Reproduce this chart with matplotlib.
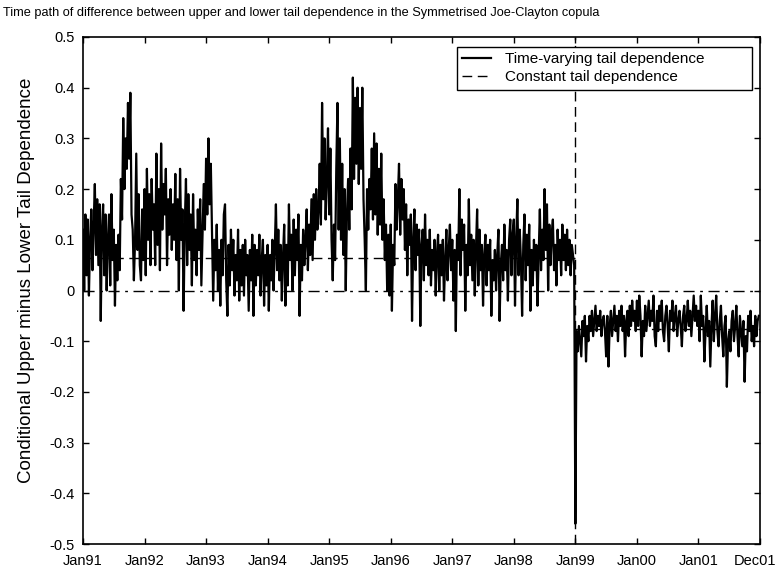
import numpy as np
import matplotlib
matplotlib.use("Agg")
import matplotlib.pyplot as plt
import matplotlib.transforms as mtransforms

plt.rcParams['font.family'] = ['Liberation Sans', 'DejaVu Sans']

# time-varying difference (upper minus lower tail dependence), weekly readings, one list per year
td_1991 = [0.12, 0.00, 0.15, 0.03, 0.14, -0.01, 0.10, 0.16, 0.04, 0.13, 0.21, 0.07, 0.18,
           0.05, 0.17, -0.06, 0.12, 0.17, 0.03, 0.15, 0.00, 0.10, 0.15, 0.01, 0.19, 0.06,
           0.12, -0.03, 0.09, 0.02, 0.11, 0.04, 0.22, 0.14, 0.34, 0.20, 0.30, 0.24, 0.37,
           0.26, 0.39, 0.15, 0.12, 0.02, 0.10, 0.27, 0.08, 0.19, 0.05, 0.02, 0.16, 0.06]
td_1992 = [0.20, 0.03, 0.24, 0.10, 0.19, 0.05, 0.22, 0.12, 0.17, 0.05, 0.27, 0.09, 0.20,
           0.04, 0.29, 0.12, 0.21, 0.15, 0.24, 0.05, 0.18, 0.11, 0.20, 0.08, 0.17, 0.10,
           0.23, 0.06, 0.18, 0.00, 0.24, 0.10, 0.16, -0.04, 0.13, 0.22, 0.05, 0.19, 0.08,
           0.15, 0.01, 0.19, 0.06, 0.12, 0.03, 0.16, 0.08, 0.18, 0.01, 0.11, 0.21, 0.12]
td_1993 = [0.26, 0.15, 0.30, 0.17, 0.25, 0.12, -0.02, 0.10, 0.04, 0.13, 0.00, 0.08, -0.03,
           0.10, 0.03, 0.15, 0.17, 0.02, -0.05, 0.09, 0.01, 0.12, 0.04, 0.10, -0.01, 0.07,
           0.02, 0.12, -0.02, 0.08, 0.01, 0.09, -0.01, 0.10, 0.03, 0.07, -0.04, 0.08, 0.02,
           0.11, -0.05, 0.09, 0.01, 0.08, 0.03, 0.11, -0.01, 0.06, 0.10, -0.03, 0.07, 0.01]
td_1994 = [0.09, -0.04, 0.07, 0.02, 0.10, 0.00, 0.08, 0.17, 0.04, 0.12, 0.02, 0.09, -0.02,
           0.07, 0.13, -0.03, 0.09, 0.01, 0.17, 0.06, 0.11, 0.00, 0.14, 0.03, 0.12, 0.06,
           0.15, -0.05, 0.09, 0.02, 0.12, 0.05, 0.10, 0.16, 0.04, 0.13, 0.07, 0.18, 0.06,
           0.19, 0.10, 0.20, 0.12, 0.16, 0.25, 0.13, 0.37, 0.18, 0.30, 0.14, 0.22, 0.32]
td_1995 = [0.15, 0.28, 0.10, 0.02, 0.13, 0.06, 0.24, 0.37, 0.12, 0.30, 0.10, 0.25, 0.07,
           0.20, 0.00, 0.15, 0.22, 0.12, 0.28, 0.16, 0.42, 0.22, 0.38, 0.25, 0.40, 0.21,
           0.36, 0.24, 0.40, 0.18, 0.10, 0.00, 0.20, 0.12, 0.22, 0.16, 0.28, 0.14, 0.31,
           0.15, 0.29, 0.11, 0.24, 0.13, 0.27, 0.10, 0.18, 0.06, 0.13, 0.00, 0.11, -0.01]
td_1996 = [0.13, -0.04, 0.09, 0.05, 0.21, 0.12, 0.18, 0.25, 0.11, 0.22, 0.14, 0.20, 0.08,
           0.17, 0.03, 0.14, 0.09, 0.15, -0.06, 0.10, 0.16, 0.04, 0.13, 0.07, 0.12, -0.07,
           0.09, 0.12, 0.02, 0.15, 0.05, 0.10, 0.03, 0.12, 0.01, 0.08, 0.04, 0.10, -0.01,
           0.07, 0.11, 0.00, 0.09, 0.03, 0.10, -0.02, 0.06, 0.12, 0.02, 0.08, 0.13, 0.04]
td_1997 = [0.10, -0.02, 0.08, -0.08, 0.11, 0.06, 0.20, 0.03, 0.14, 0.08, 0.13, -0.04, 0.09,
           0.03, 0.18, 0.05, 0.11, 0.02, 0.10, -0.01, 0.08, 0.16, 0.01, 0.12, 0.04, 0.09,
           -0.03, 0.07, 0.11, 0.01, 0.09, 0.04, 0.10, -0.05, 0.06, 0.02, 0.08, 0.00, 0.07,
           0.12, -0.06, 0.05, 0.09, 0.02, 0.13, 0.04, 0.08, -0.02, 0.10, 0.14, 0.03, 0.11]
td_1998 = [0.14, -0.03, 0.10, 0.18, 0.03, 0.12, 0.06, -0.05, 0.09, 0.15, 0.02, 0.11, 0.05,
           0.13, -0.04, 0.08, 0.01, 0.10, 0.04, 0.09, -0.03, 0.07, 0.16, 0.04, 0.12, 0.06,
           0.20, 0.08, 0.17, 0.00, 0.13, 0.05, 0.11, 0.14, 0.04, 0.09, 0.01, 0.12, 0.06,
           0.10, 0.03, 0.13, 0.06, 0.11, 0.04, 0.12, 0.05, 0.10, 0.03, 0.09, 0.07, 0.05]
td_1999 = [-0.46, -0.08, -0.12, -0.07, -0.10, -0.13, -0.06, -0.09, -0.05, -0.14, -0.07, -0.10, -0.05,
           -0.08, -0.04, -0.09, -0.06, -0.03, -0.08, -0.05, -0.07, -0.04, -0.09, -0.06, -0.05, -0.08,
           -0.13, -0.05, -0.15, -0.07, -0.04, -0.09, -0.06, -0.03, -0.08, -0.05, -0.10, -0.04, -0.07,
           -0.03, -0.08, -0.05, -0.13, -0.06, -0.04, -0.09, -0.03, -0.07, -0.02, -0.06, -0.04, -0.08]
td_2000 = [-0.02, -0.07, -0.01, -0.05, -0.13, -0.06, -0.09, -0.03, -0.08, -0.05, -0.02, -0.07, -0.04,
           -0.06, -0.01, -0.09, -0.11, -0.04, -0.08, -0.03, -0.06, -0.02, -0.08, -0.10, -0.05, -0.03,
           -0.07, -0.12, -0.04, -0.06, -0.02, -0.08, -0.05, -0.03, -0.09, -0.06, -0.04, -0.07, -0.11,
           -0.05, -0.03, -0.08, -0.06, -0.02, -0.07, -0.04, -0.09, -0.05, -0.01, -0.06, -0.03, -0.07]
td_2001 = [-0.04, -0.10, -0.01, -0.07, -0.05, -0.14, -0.08, -0.03, -0.09, -0.06, -0.15, -0.07, -0.02,
           -0.10, -0.05, -0.01, -0.08, -0.11, -0.06, -0.03, -0.09, -0.13, -0.07, -0.05, -0.19, -0.10,
           -0.08, -0.12, -0.06, -0.04, -0.10, -0.07, -0.03, -0.09, -0.13, -0.05, -0.08, -0.11, -0.06,
           -0.18, -0.09, -0.12, -0.05, -0.08, -0.04, -0.10, -0.07, -0.11, -0.05, -0.09, -0.06, -0.05]

years = list(range(1991, 2002))
series = [td_1991, td_1992, td_1993, td_1994, td_1995, td_1996,
          td_1997, td_1998, td_1999, td_2000, td_2001]

# constant tail dependence difference, before and after the break
break_year = 1999
const_before = 0.065
const_after = -0.075

xtick_labels = ['Jan91', 'Jan92', 'Jan93', 'Jan94', 'Jan95', 'Jan96',
                'Jan97', 'Jan98', 'Jan99', 'Jan00', 'Jan01', 'Dec01']
ytick_vals = [-0.5, -0.4, -0.3, -0.2, -0.1, 0, 0.1, 0.2, 0.3, 0.4, 0.5]
ytick_labels = ['-0.5', '-0.4', '-0.3', '-0.2', '-0.1', '0', '0.1', '0.2', '0.3', '0.4', '0.5']

# time axis in fractional years
t = np.concatenate([yr + np.arange(len(v)) / len(v) for yr, v in zip(years, series)])
y = np.concatenate(series)

fig = plt.figure(figsize=(7.78, 5.71), dpi=100)
ax = fig.add_axes([83 / 778, 1 - 544 / 571, 677 / 778, 507 / 571])

ax.plot(t, y, color='k', lw=1.6, label='Time-varying tail dependence')
ax.plot([1991, break_year], [const_before, const_before], color='k', lw=1.0,
        ls=(0, (7, 4)), label='Constant tail dependence')
ax.plot([break_year, 2002], [const_after, const_after], color='k', lw=1.0, ls=(0, (7, 4)))
ax.axhline(0, color='k', lw=1.0, ls=(0, (8, 4, 2, 4)))
ax.axvline(break_year, color='k', lw=1.0, ls=(0, (7, 4)))

ax.set_xlim(1991, 2002)
ax.set_ylim(-0.5, 0.5)
ax.set_xticks(list(range(1991, 2003)))
ax.set_xticklabels(xtick_labels)
ax.set_yticks(ytick_vals)
ax.set_yticklabels(ytick_labels)
ax.tick_params(direction='in', length=4.5, width=1.0, top=True, right=True, labelsize=10.5)
ax.tick_params(axis='x', pad=7.5)
ax.tick_params(axis='y', pad=6)
for s in ax.spines.values():
    s.set_linewidth(1.2)

# last label sits a little left of its tick, as in the original
last = ax.get_xticklabels()[-1]
last.set_transform(last.get_transform() + mtransforms.ScaledTranslation(-5 / 100, 0, fig.dpi_scale_trans))

ax.set_ylabel('Conditional Upper minus Lower Tail Dependence', fontsize=13.5)
ax.yaxis.set_label_coords(-0.071, 0.52)

fig.text(0.004, 1 - 13 / 571, 'Time path of difference between upper and lower tail dependence '
         'in the Symmetrised Joe-Clayton copula', fontsize=9.2, ha='left', va='center')

leg = ax.legend(loc='upper left', bbox_to_anchor=(457 / 778, 1 - 88 / 571, 295 / 778, 41 / 571),
                bbox_transform=fig.transFigure, mode='expand', borderaxespad=0, fancybox=False,
                framealpha=1, edgecolor='k', fontsize=11, handlelength=1.9,
                handletextpad=0.9, labelspacing=0.25, borderpad=0.35)
leg.get_frame().set_linewidth(1.0)

fig.savefig('out.png', dpi=100)
